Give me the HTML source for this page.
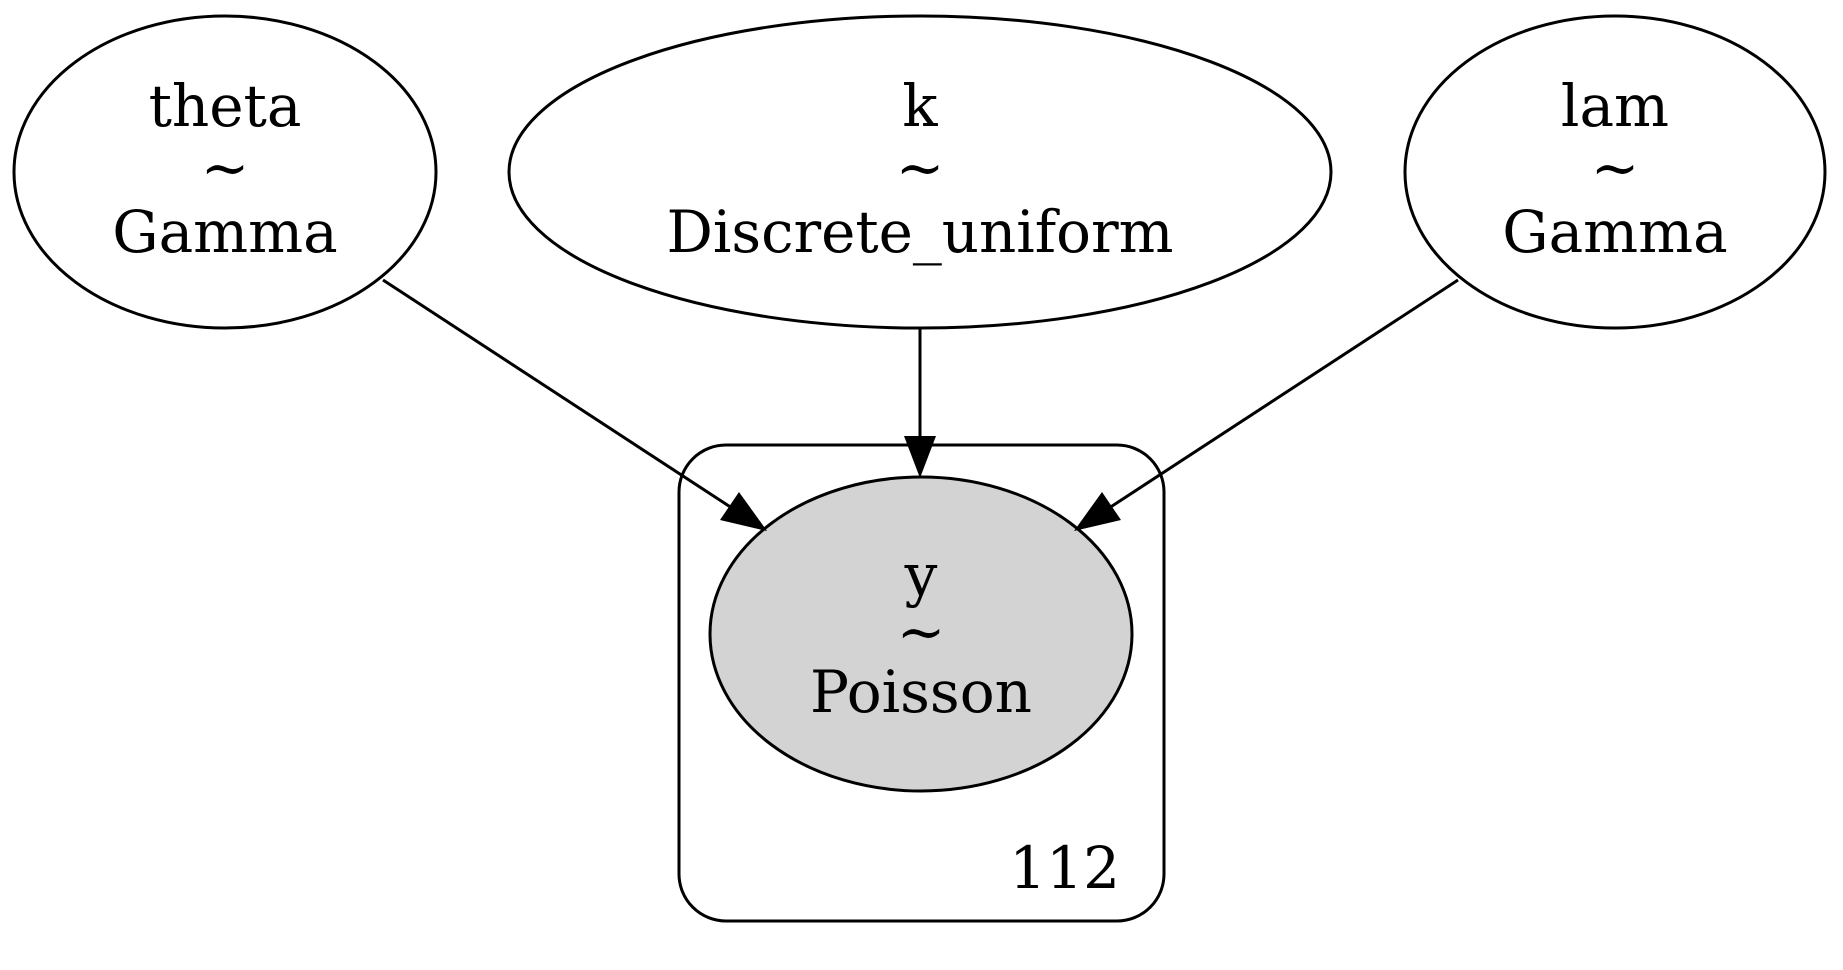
<!DOCTYPE html>
<html><head><style>html,body{margin:0;padding:0;background:#fff}svg{display:block}</style></head>
<body>
<svg width="1843" height="970" viewBox="0 0 1843 970" xmlns="http://www.w3.org/2000/svg" font-family="'DejaVu Serif','Liberation Serif',serif" font-size="58" text-anchor="middle">
<rect x="679" y="445" width="485" height="476" rx="47" fill="none" stroke="#000" stroke-width="3"/>
<ellipse cx="225" cy="172" rx="211" ry="156" fill="none" stroke="#000" stroke-width="3"/>
<ellipse cx="920" cy="172" rx="411" ry="156" fill="none" stroke="#000" stroke-width="3"/>
<ellipse cx="1615" cy="172" rx="210" ry="156" fill="none" stroke="#000" stroke-width="3"/>
<ellipse cx="921" cy="634" rx="211" ry="157" fill="#d3d3d3" stroke="#000" stroke-width="3"/>
<g stroke="#000" stroke-width="3">
<line x1="383" y1="280" x2="735" y2="510"/>
<line x1="920" y1="328" x2="920" y2="440"/>
<line x1="1458" y1="280" x2="1106" y2="510"/>
</g>
<polygon points="767,531 720,520 739,492" fill="#000"/>
<polygon points="1074,531 1102,492 1121,520" fill="#000"/>
<polygon points="920,478 904,436 936,436" fill="#000"/>
<text x="225" y="126">theta</text><text x="225" y="188">~</text><text x="225" y="252">Gamma</text>
<text x="920" y="126">k</text><text x="920" y="188">~</text><text x="920" y="252" textLength="507" lengthAdjust="spacingAndGlyphs">Discrete_uniform</text>
<text x="1615" y="126">lam</text><text x="1615" y="188">~</text><text x="1615" y="252">Gamma</text>
<text x="921" y="595">y</text><text x="921" y="652">~</text><text x="921" y="712">Poisson</text>
<text x="1120" y="888" text-anchor="end">112</text>
</svg>
</body></html>
